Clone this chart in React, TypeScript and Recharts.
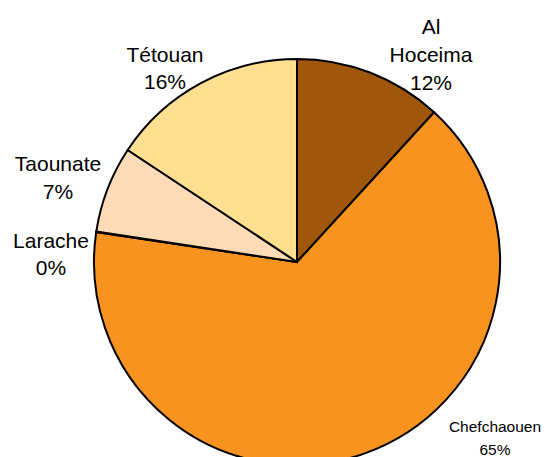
import { PieChart, Pie, Cell } from 'recharts'

const regions = ['Al Hoceima', 'Chefchaouen', 'Larache', 'Taounate', 'Tétouan']
const shares = [11.8, 65.55, 0.05, 6.9, 15.7]
const percentLabels = ['12%', '65%', '0%', '7%', '16%']
const labelLines = [['Al', 'Hoceima'], ['Chefchaouen'], ['Larache'], ['Taounate'], ['Tétouan']]
const colors = ['#A0560B', '#F7931E', '#F7931E', '#FEDBB7', '#FFE091']

const data = regions.map((name, i) => ({ name, value: shares[i] }))

// label block centres relative to pie centre, line height, font size
const labelLayout: Record<string, { dx: number; dy: number; lh: number; fs: number }> = {
  'Al Hoceima': { dx: 134, dy: -208, lh: 28, fs: 21 },
  Chefchaouen: { dx: 198, dy: 175, lh: 23, fs: 15.5 },
  Larache: { dx: -246, dy: -9, lh: 27, fs: 21 },
  Taounate: { dx: -239, dy: -85, lh: 28, fs: 21 },
  'Tétouan': { dx: -132, dy: -195, lh: 27, fs: 21 },
}

const renderLabel = (props: any) => {
  const { cx, cy, index } = props
  const name = regions[index]
  const layout = labelLayout[name]
  const lines = [...labelLines[index], percentLabels[index]]
  const x = cx + layout.dx
  const y0 = cy + layout.dy - ((lines.length - 1) * layout.lh) / 2
  return (
    <text
      key={name}
      x={x}
      y={y0}
      textAnchor="middle"
      dominantBaseline="central"
      fill="#000"
      fontSize={layout.fs}
      fontFamily="Arial, 'Liberation Sans', sans-serif"
    >
      {lines.map((line, i) => (
        <tspan key={i} x={x} y={y0 + i * layout.lh}>
          {line}
        </tspan>
      ))}
    </text>
  )
}

export default function App() {
  return (
    <div style={{ position: 'absolute', left: 0, top: 0, width: 544, height: 457, background: '#fff' }}>
      <PieChart width={544} height={457} margin={{ top: 0, right: 0, bottom: 0, left: 0 }}>
        <Pie
          data={data}
          dataKey="value"
          nameKey="name"
          cx={297}
          cy={262}
          outerRadius={203}
          startAngle={90}
          endAngle={-270}
          stroke="#000"
          strokeWidth={2}
          label={renderLabel}
          labelLine={false}
          isAnimationActive={false}
        >
          {data.map((d, i) => (
            <Cell key={d.name} fill={colors[i]} />
          ))}
        </Pie>
      </PieChart>
    </div>
  )
}
